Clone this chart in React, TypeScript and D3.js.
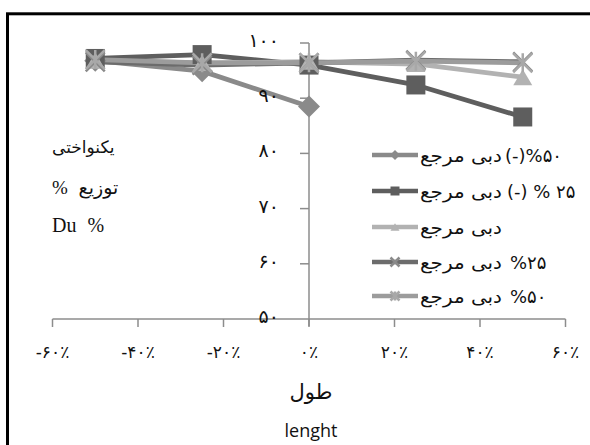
import React from 'react';
import * as d3 from 'd3';

// ---- data ----
const xValues = [-50, -25, 0, 25, 50];
const seriesDiamond = [96.8, 94.9, 88.5];          // ۵۰%(-) دبی مرجع
const seriesSquare = [97.2, 97.9, 96.0, 92.4, 86.6]; // ۲۵% (-) دبی مرجع
const seriesTriangle = [96.8, 96.4, 96.6, 96.2, 93.8]; // دبی مرجع
const seriesX = [96.6, 96.0, 96.4, 96.9, 96.6];      // ۲۵% دبی مرجع
const seriesStar = [97.0, 96.4, 96.4, 96.7, 96.4];   // ۵۰% دبی مرجع
const xTicks = [-60, -40, -20, 0, 20, 40, 60];
const yTicks = [50, 60, 70, 80, 90, 100];
const legendBase = 'دبی مرجع';
const legendSuffixes = ['(-)%۵۰', '(-) % ۲۵', '', '%۲۵', '%۵۰'];
const yTitleLines = ['یکنواختی', '% توزیع', 'Du %'];
const xTitleFa = 'طول';
const xTitleEn = 'lenght';

const LRM = '\u200E';
const faDigits = '۰۱۲۳۴۵۶۷۸۹';
const toFa = (n: number) => String(n).replace(/[0-9]/g, (d) => faDigits[+d]);

type Marker = 'diamond' | 'square' | 'triangle' | 'x' | 'star';

const seriesDefs: { values: number[]; color: string; marker: Marker; mfill: string }[] = [
  { values: seriesDiamond, color: '#8a8a8a', marker: 'diamond', mfill: '#8a8a8a' },
  { values: seriesSquare, color: '#5e5e5e', marker: 'square', mfill: '#5e5e5e' },
  { values: seriesTriangle, color: '#b2b2b2', marker: 'triangle', mfill: '#b2b2b2' },
  { values: seriesX, color: '#6c6c6c', marker: 'x', mfill: '#8a8a8a' },
  { values: seriesStar, color: '#9c9c9c', marker: 'star', mfill: '#a8a8a8' },
];

function markerPath(type: Marker, s: number): string {
  const p = d3.path();
  const h = s / 2;
  if (type === 'square') {
    p.rect(-h, -h, s, s);
  } else if (type === 'diamond') {
    p.moveTo(0, -h); p.lineTo(h, 0); p.lineTo(0, h); p.lineTo(-h, 0); p.closePath();
  } else if (type === 'triangle') {
    p.moveTo(0, -h * 0.85); p.lineTo(h, h * 0.85); p.lineTo(-h, h * 0.85); p.closePath();
  } else if (type === 'x') {
    p.moveTo(-h, -h); p.lineTo(h, h); p.moveTo(h, -h); p.lineTo(-h, h);
  } else {
    p.moveTo(-h, -h); p.lineTo(h, h); p.moveTo(h, -h); p.lineTo(-h, h);
    p.moveTo(0, -h); p.lineTo(0, h);
  }
  return p.toString();
}

function MarkerShape({ type, x, y, size, fill }: { type: Marker; x: number; y: number; size: number; fill: string }) {
  const d = markerPath(type, size);
  const stroked = type === 'x' || type === 'star';
  return (
    <path
      d={d}
      transform={`translate(${x},${y})`}
      fill={stroked ? 'none' : fill}
      stroke={stroked ? fill : 'none'}
      strokeWidth={stroked ? 2.5 : 0}
    />
  );
}

export default function App() {
  const W = 590;
  const H = 445;
  const x = d3.scaleLinear().domain([-60, 60]).range([52.5, 565.5]);
  const y = d3.scaleLinear().domain([50, 100]).range([319, 43]);
  const line = d3
    .line<number>()
    .x((_, i) => x(xValues[i]))
    .y((v) => y(v));
  const axisColor = '#8c8c8c';
  const legendY = [155, 191, 227, 262, 296];
  const suffixX = [505, 507, 0, 510, 510];

  return (
    <svg width={W} height={H} style={{ position: 'absolute', left: 0, top: 0, background: '#fff' }}>
      <rect x={0} y={0} width={W} height={H} fill="#fff" />
      {/* frame */}
      <rect x={7.5} y={13.8} width={W + 20} height={H + 20} fill="none" stroke="#000" strokeWidth={3} />

      {/* axes */}
      <line x1={x(0)} x2={x(0)} y1={y(100)} y2={y(50) + 7} stroke={axisColor} strokeWidth={1.5} />
      {yTicks.filter((t) => t !== 50).map((t) => (
        <line key={'ytl' + t} x1={x(0) - 9} x2={x(0)} y1={y(t)} y2={y(t)} stroke={axisColor} strokeWidth={1.5} />
      ))}
      <line x1={x(-60)} x2={x(60)} y1={y(50)} y2={y(50)} stroke={axisColor} strokeWidth={1.5} />
      {xTicks.map((t) => (
        <g key={'xt' + t}>
          <line x1={x(t)} x2={x(t)} y1={y(50)} y2={y(50) + 8} stroke={axisColor} strokeWidth={1.5} />
          <text
            x={x(t)}
            y={352}
            textAnchor="middle"
            dominantBaseline="central"
            fontFamily="'DejaVu Sans', sans-serif"
            fontSize={17}
            letterSpacing={1.5}
            fill="#111"
          >
            {LRM + (t < 0 ? '-' : '') + toFa(Math.abs(t)) + '٪'}
          </text>
        </g>
      ))}

      {/* series lines */}
      {seriesDefs.map((s, i) => (
        <path key={'l' + i} d={line(s.values) || ''} fill="none" stroke={s.color} strokeWidth={4.8} strokeLinejoin="round" />
      ))}
      {/* markers */}
      {seriesDefs.map((s, i) => (
        <g key={'m' + i}>
          {s.values.map((v, j) => (
            <MarkerShape key={j} type={s.marker} x={x(xValues[j])} y={y(v)} size={s.marker === 'diamond' ? 22 : 19} fill={s.mfill} />
          ))}
        </g>
      ))}

      {/* y tick labels (on top) */}
      {yTicks.map((t) => (
        <text
          key={'ylab' + t}
          x={279}
          y={y(t) - 3}
          textAnchor="end"
          dominantBaseline="central"
          fontFamily="'DejaVu Sans', sans-serif"
          fontSize={19}
          fill="#111"
        >
          {toFa(t)}
        </text>
      ))}

      {/* legend */}
      {seriesDefs.map((s, i) => (
        <g key={'lg' + i}>
          <line x1={372} x2={418} y1={legendY[i]} y2={legendY[i]} stroke={s.color} strokeWidth={4.5} />
          <MarkerShape type={s.marker} x={395} y={legendY[i]} size={s.marker === 'diamond' ? 10 : 9} fill={s.mfill} />
          <text
            x={420}
            y={legendY[i]}
            dominantBaseline="central"
            fontFamily="'DejaVu Sans', sans-serif"
            fontSize={18}
            textLength={82}
            lengthAdjust="spacingAndGlyphs"
            fill="#111"
          >
            {legendBase}
          </text>
          {legendSuffixes[i] && (
            <text
              x={suffixX[i]}
              y={legendY[i]}
              dominantBaseline="central"
              fontFamily="'DejaVu Sans', sans-serif"
              fontSize={18}
              letterSpacing={1}
              style={{ whiteSpace: 'pre' }}
              fill="#111"
            >
              {LRM + legendSuffixes[i]}
            </text>
          )}
        </g>
      ))}

      {/* y title */}
      {yTitleLines.map((t, i) => (
        <text
          key={'yti' + i}
          x={52}
          y={[147, 187, 225][i]}
          dominantBaseline="central"
          fontFamily="'Liberation Serif', 'DejaVu Sans', serif"
          fontSize={[17, 19, 20][i]}
          wordSpacing={i === 0 ? 0 : 6}
          fill="#111"
        >
          {LRM + t}
        </text>
      ))}

      {/* x title */}
      <text x={311} y={392} textAnchor="middle" dominantBaseline="central" fontFamily="'DejaVu Sans', serif" fontSize={21} fill="#111">
        {xTitleFa}
      </text>
      <text x={311} y={430} textAnchor="middle" dominantBaseline="central" fontFamily="'Open Sans', sans-serif" fontSize={18} fill="#111">
        {xTitleEn}
      </text>
    </svg>
  );
}
